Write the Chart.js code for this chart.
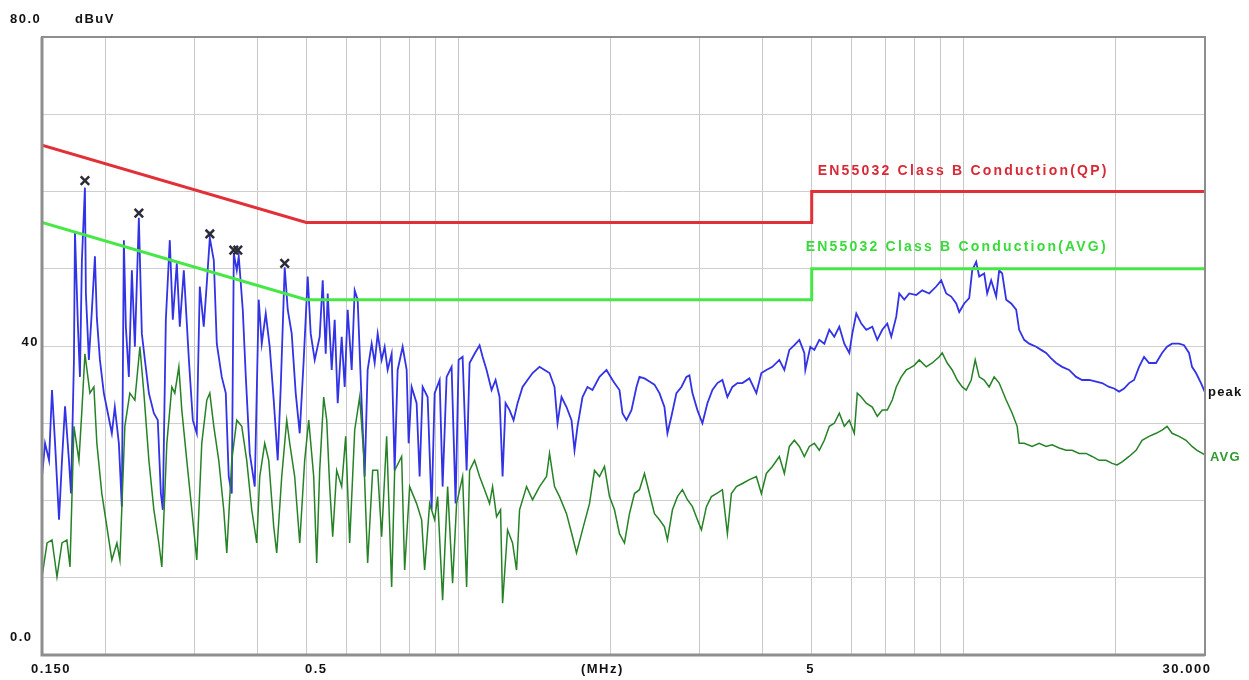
<!DOCTYPE html>
<html>
<head>
<meta charset="utf-8">
<script src="https://cdn.jsdelivr.net/npm/chart.js@4.4.0/dist/chart.umd.min.js"></script>
<style>
  html, body { margin: 0; padding: 0; background: #fff; }
  canvas { display: block; }
</style>
</head>
<body>
<canvas id="emc" width="1249" height="680"></canvas>
<script>
// peak detector trace (MHz / dBuV)
var peakFreq = [
  0.1500, 0.1521, 0.1549, 0.1570, 0.1592, 0.1621, 0.1643, 0.1666, 0.1696, 0.1712,
  0.1735, 0.1743, 0.1767, 0.1783, 0.1799, 0.1824, 0.1832, 0.1857, 0.1883, 0.1909,
  0.1926, 0.1953, 0.1988, 0.2025, 0.2062, 0.2090, 0.2129, 0.2158, 0.2178, 0.2198,
  0.2228, 0.2259, 0.2290, 0.2332, 0.2364, 0.2397, 0.2441, 0.2497, 0.2542, 0.2578,
  0.2601, 0.2637, 0.2685, 0.2722, 0.2772, 0.2810, 0.2862, 0.2929, 0.2982, 0.3036,
  0.3078, 0.3134, 0.3178, 0.3222, 0.3281, 0.3326, 0.3402, 0.3465, 0.3512, 0.3561,
  0.3594, 0.3643, 0.3676, 0.3744, 0.3796, 0.3865, 0.3954, 0.4026, 0.4082, 0.4157,
  0.4233, 0.4311, 0.4390, 0.4451, 0.4532, 0.4595, 0.4679, 0.4765, 0.4853, 0.4942,
  0.5033, 0.5102, 0.5196, 0.5315, 0.5389, 0.5463, 0.5513, 0.5614, 0.5691, 0.5770,
  0.5875, 0.5956, 0.6038, 0.6149, 0.6234, 0.6319, 0.6435, 0.6524, 0.6613, 0.6735,
  0.6828, 0.6922, 0.7049, 0.7146, 0.7244, 0.7377, 0.7479, 0.7581, 0.7756, 0.7899,
  0.7971, 0.8080, 0.8266, 0.8380, 0.8496, 0.8691, 0.8851, 0.8973, 0.9180, 0.9305,
  0.9476, 0.9694, 0.9872, 1.0008, 1.0192, 1.0380, 1.0522, 1.0764, 1.1012, 1.1164,
  1.1369, 1.1630, 1.1844, 1.2061, 1.2228, 1.2396, 1.2624, 1.2856, 1.3092, 1.3393,
  1.3701, 1.4017, 1.4471, 1.4804, 1.5145, 1.5493, 1.5706, 1.5995, 1.6363, 1.6740,
  1.6970, 1.7204, 1.7599, 1.8004, 1.8419, 1.9015, 1.9631, 2.0175, 2.0359, 2.0828,
  2.1114, 2.1502, 2.1997, 2.2503, 2.2813, 2.3339, 2.3876, 2.4426, 2.4988, 2.5563,
  2.5914, 2.6391, 2.6999, 2.7620, 2.8256, 2.8644, 2.9038, 2.9706, 3.0391, 3.1091,
  3.1807, 3.2539, 3.3287, 3.4054, 3.4839, 3.5640, 3.6461, 3.7641, 3.8859, 3.9754,
  4.0669, 4.1796, 4.3149, 4.4143, 4.5159, 4.6199, 4.7262, 4.8350, 4.8571, 4.9689,
  5.0602, 5.1766, 5.2959, 5.4178, 5.5425, 5.6701, 5.8006, 5.9341, 6.0158, 6.1263,
  6.2673, 6.4116, 6.5892, 6.7408, 6.8961, 7.0548, 7.1844, 7.3498, 7.4509, 7.6225,
  7.7979, 8.0504, 8.2733, 8.5412, 8.8177, 9.0207, 9.2284, 9.4408, 9.6581, 9.7910,
  10.017, 10.247, 10.388, 10.579, 10.724, 10.971, 11.122, 11.326, 11.587, 11.746,
  11.908, 12.127, 12.406, 12.692, 12.866, 13.163, 13.466, 13.902, 14.221, 14.548,
  14.884, 15.227, 15.648, 16.155, 16.677, 17.140, 17.695, 18.267, 18.773, 19.381,
  19.827, 20.283, 20.751, 21.228, 21.717, 22.217, 22.729, 23.252, 24.004, 24.669,
  25.237, 25.818, 26.654, 27.268, 27.896, 28.279, 28.798, 29.461, 30.000
];
var peakLevel = [
  23.1, 27.4, 25.2, 34.3, 27.4, 17.5, 25.2, 32.2, 25.2, 20.9,
  38.2, 54.8, 42.5, 36.0, 51.1, 60.5, 46.8, 38.2, 44.7, 51.6,
  43.6, 38.2, 33.9, 31.3, 28.7, 32.1, 27.4, 19.2, 53.7, 42.5,
  36.0, 49.8, 39.9, 56.6, 41.6, 38.2, 33.9, 31.3, 30.4, 20.9,
  18.8, 43.4, 53.7, 43.4, 50.7, 42.5, 49.8, 38.2, 30.4, 28.7,
  47.7, 42.5, 48.1, 54.0, 51.1, 40.3, 36.0, 33.9, 23.1, 20.9,
  52.0, 49.8, 51.6, 44.7, 36.0, 26.1, 21.8, 46.0, 40.3, 44.2,
  39.9, 33.0, 25.2, 34.7, 50.2, 44.7, 41.6, 33.9, 28.7, 38.2,
  49.0, 41.6, 38.2, 41.2, 48.5, 39.0, 46.8, 36.9, 43.4, 32.6,
  41.2, 34.7, 44.7, 36.9, 47.2, 46.0, 32.6, 23.1, 36.9, 40.3,
  37.8, 41.6, 38.2, 39.9, 36.9, 39.0, 23.9, 36.9, 39.9, 36.9,
  27.4, 34.7, 32.6, 23.1, 34.7, 33.4, 18.8, 33.9, 35.6, 21.8,
  36.0, 37.3, 19.6, 38.2, 38.6, 23.9, 37.8, 39.0, 40.1, 38.6,
  36.9, 34.3, 35.6, 33.4, 23.1, 32.6, 31.7, 30.4, 32.6, 34.7,
  35.6, 36.5, 37.3, 36.9, 36.5, 34.7, 30.0, 33.4, 32.1, 30.4,
  26.5, 29.6, 33.4, 34.7, 34.3, 36.0, 36.9, 35.6, 35.2, 34.3,
  31.3, 30.4, 31.7, 34.7, 36.0, 35.8, 35.4, 35.0, 33.9, 32.1,
  28.7, 30.9, 33.9, 34.7, 36.0, 36.2, 33.9, 31.7, 30.0, 32.6,
  34.3, 35.2, 35.6, 33.4, 34.7, 35.2, 35.2, 35.8, 33.9, 36.5,
  36.9, 37.3, 38.2, 36.9, 39.5, 40.1, 40.8, 39.1, 36.9, 39.9,
  39.5, 40.8, 40.3, 42.1, 41.2, 42.5, 40.3, 39.1, 41.6, 44.2,
  42.9, 42.1, 42.5, 40.8, 42.1, 42.9, 41.2, 43.8, 46.8, 46.0,
  46.8, 46.6, 47.2, 46.8, 47.7, 48.5, 46.8, 46.4, 45.5, 44.4,
  45.5, 46.2, 49.8, 50.9, 49.0, 49.4, 46.8, 48.5, 46.4, 49.8,
  49.4, 46.0, 45.5, 44.7, 42.1, 40.8, 40.3, 39.9, 39.5, 39.1,
  38.4, 37.8, 37.3, 36.9, 36.0, 35.6, 35.6, 35.4, 35.2, 34.7,
  34.5, 34.1, 34.5, 35.2, 35.6, 37.3, 38.6, 37.8, 37.8, 39.1,
  39.9, 40.3, 40.3, 40.1, 39.1, 37.3, 36.5, 35.2, 34.0
];

// average detector trace
var avgFreq = [
  0.1500, 0.1535, 0.1570, 0.1606, 0.1643, 0.1680, 0.1704, 0.1735, 0.1775, 0.1799,
  0.1824, 0.1866, 0.1900, 0.1926, 0.1970, 0.2016, 0.2062, 0.2110, 0.2139, 0.2188,
  0.2238, 0.2290, 0.2343, 0.2386, 0.2441, 0.2497, 0.2554, 0.2589, 0.2649, 0.2710,
  0.2747, 0.2798, 0.2836, 0.2901, 0.2968, 0.3036, 0.3106, 0.3178, 0.3222, 0.3281,
  0.3356, 0.3433, 0.3481, 0.3561, 0.3643, 0.3727, 0.3812, 0.3900, 0.3990, 0.4045,
  0.4138, 0.4214, 0.4311, 0.4370, 0.4471, 0.4574, 0.4637, 0.4743, 0.4853, 0.4964,
  0.5056, 0.5172, 0.5243, 0.5315, 0.5413, 0.5488, 0.5563, 0.5640, 0.5743, 0.5875,
  0.5983, 0.6093, 0.6234, 0.6377, 0.6494, 0.6613, 0.6766, 0.6922, 0.7049, 0.7211,
  0.7377, 0.7479, 0.7721, 0.7827, 0.8007, 0.8266, 0.8457, 0.8573, 0.8771, 0.8973,
  0.9096, 0.9305, 0.9520, 0.9738, 0.9917, 1.0192, 1.0380, 1.0522, 1.0764, 1.1012,
  1.1266, 1.1525, 1.1683, 1.1898, 1.2116, 1.2228, 1.2509, 1.2797, 1.3032, 1.3212,
  1.3639, 1.4017, 1.4471, 1.4939, 1.5145, 1.5493, 1.5850, 1.6363, 1.6817, 1.7125,
  1.7599, 1.8169, 1.8587, 1.9015, 1.9453, 1.9901, 2.0359, 2.0828, 2.1307, 2.1798,
  2.2300, 2.2813, 2.3339, 2.3876, 2.4426, 2.4988, 2.5563, 2.5914, 2.6512, 2.7122,
  2.7746, 2.8385, 2.9038, 2.9706, 3.0253, 3.0949, 3.1662, 3.2391, 3.3287, 3.4054,
  3.4680, 3.5478, 3.6461, 3.7641, 3.8859, 3.9754, 4.0669, 4.1796, 4.3149, 4.4143,
  4.5159, 4.6199, 4.7262, 4.8350, 4.9463, 5.0602, 5.1766, 5.2959, 5.4178, 5.5425,
  5.6701, 5.8006, 5.9341, 6.0708, 6.1542, 6.2673, 6.4116, 6.5892, 6.7408, 6.8961,
  7.0548, 7.2172, 7.3498, 7.5190, 7.6921, 7.7979, 7.9775, 8.1611, 8.4253, 8.6587,
  8.9390, 9.0619, 9.2705, 9.4839, 9.7022, 9.9257, 10.108, 10.341, 10.531, 10.724,
  10.971, 11.223, 11.482, 11.746, 12.127, 12.463, 12.750, 12.866, 13.163, 13.651,
  14.093, 14.548, 14.952, 15.436, 15.936, 16.377, 16.907, 17.455, 17.938, 18.518,
  19.118, 19.647, 20.100, 20.563, 21.228, 21.915, 22.522, 23.252, 24.004, 24.669,
  25.237, 25.818, 26.654, 27.517, 28.279, 28.930, 30.000
];
var avgLevel = [
  10.1, 14.5, 14.9, 10.1, 14.5, 14.9, 11.4, 29.6, 25.2, 31.7,
  39.0, 33.9, 34.7, 27.4, 20.9, 16.6, 12.3, 14.5, 12.3, 29.6,
  33.9, 33.0, 39.9, 33.9, 25.2, 18.8, 14.5, 11.4, 27.4, 34.7,
  33.9, 37.3, 31.7, 25.2, 18.8, 12.3, 27.4, 33.0, 33.9, 29.6,
  25.2, 18.8, 13.2, 25.2, 30.4, 29.6, 25.2, 18.8, 14.5, 23.1,
  27.4, 25.2, 16.6, 13.2, 23.1, 30.4, 27.4, 23.1, 14.5, 25.2,
  30.4, 23.1, 11.9, 23.9, 33.4, 30.4, 21.8, 15.3, 23.9, 21.8,
  28.3, 14.5, 29.1, 33.4, 26.1, 11.9, 23.9, 23.9, 15.3, 28.3,
  8.8, 23.9, 25.7, 11.0, 21.8, 19.6, 17.5, 11.0, 19.6, 17.5,
  20.5, 7.1, 21.8, 9.3, 19.6, 23.1, 8.8, 23.9, 25.2, 23.1,
  21.4, 19.6, 21.8, 17.9, 18.8, 6.7, 16.2, 14.5, 11.0, 18.8,
  21.8, 20.1, 21.8, 23.1, 26.1, 21.8, 20.5, 18.3, 15.3, 13.2,
  16.2, 19.6, 23.9, 23.1, 24.4, 20.5, 18.8, 15.7, 14.5, 18.3,
  20.9, 21.4, 23.5, 20.9, 18.3, 17.5, 16.6, 14.9, 18.8, 20.5,
  21.4, 20.1, 19.2, 17.5, 16.2, 19.2, 20.5, 20.9, 21.4, 15.7,
  20.9, 21.8, 22.2, 22.7, 23.1, 20.9, 23.5, 24.4, 25.7, 23.5,
  27.0, 27.8, 27.0, 25.7, 27.0, 27.4, 26.5, 27.8, 29.6, 30.0,
  31.3, 29.6, 30.4, 28.7, 33.9, 33.4, 32.6, 32.1, 30.9, 31.7,
  31.7, 33.0, 34.7, 36.0, 36.9, 37.1, 37.5, 38.2, 37.3, 37.8,
  38.6, 39.1, 37.8, 36.9, 35.6, 34.7, 34.3, 35.6, 38.2, 36.0,
  35.6, 34.7, 36.0, 35.2, 33.0, 31.3, 29.6, 27.4, 27.4, 27.0,
  27.4, 27.0, 27.2, 26.8, 26.5, 26.5, 26.1, 26.1, 25.7, 25.2,
  25.2, 24.8, 24.6, 25.0, 25.7, 26.5, 27.8, 28.3, 28.7, 29.1,
  29.6, 28.7, 28.3, 27.8, 27.0, 26.5, 25.9
];

// EN55032 class B conducted limits
var qpLimitFreq = [0.15, 0.5, 5, 5, 30];
var qpLimitLevel = [66, 56, 56, 60, 60];
var avgLimitFreq = [0.15, 0.5, 5, 5, 30];
var avgLimitLevel = [56, 46, 46, 50, 50];

// marked peaks
var markerFreq = [0.1824, 0.2332, 0.3222, 0.3594, 0.3660, 0.4532];
var markerLevel = [61.4, 57.2, 54.5, 52.4, 52.4, 50.7];

// grid lines and axis labels
var xGridTicks = [0.15, 0.2, 0.3, 0.4, 0.5, 0.6, 0.7, 0.8, 0.9, 1, 2, 3, 4, 5, 6, 7, 8, 9, 10, 20, 30];
var yGridTicks = [0, 10, 20, 30, 40, 50, 60, 70, 80];
var xLabelValues = [0.15, 0.5, 1.9, 5, 30];
var xLabelTexts = ["0.150", "0.5", "(MHz)", "5", "30.000"];
var yLabelValues = [80, 40, 0];
var yLabelTexts = ["80.0", "40", "0.0"];

function toPoints(xs, ys) {
  return xs.map(function(x, i) { return { x: x, y: ys[i] }; });
}

// frame + all text annotations
var emcText = {
  id: "emcText",
  afterDraw: function(chart) {
    var c = chart.ctx, a = chart.chartArea;
    var xs = chart.scales.x, ys = chart.scales.y;
    c.save();
    c.strokeStyle = "#8e8e8e";
    c.lineWidth = 2;
    c.strokeRect(a.left, a.top, a.right - a.left, a.bottom - a.top);
    c.lineWidth = 3;
    c.beginPath();
    c.moveTo(a.left, a.top);
    c.lineTo(a.left, a.bottom);
    c.lineTo(a.right, a.bottom);
    c.stroke();

    c.font = 'bold 13px "Liberation Sans"';
    c.letterSpacing = "1.5px";
    c.textBaseline = "middle";
    c.fillStyle = "#111";

    // y labels
    c.textAlign = "left";
    c.fillText(yLabelTexts[0], 10, ys.getPixelForValue(yLabelValues[0]) - 18);
    c.fillText("dBuV", 75, ys.getPixelForValue(yLabelValues[0]) - 18);
    c.fillText(yLabelTexts[2], 10, ys.getPixelForValue(yLabelValues[2]) - 18);
    c.textAlign = "right";
    c.fillText(yLabelTexts[1], 39, ys.getPixelForValue(yLabelValues[1]) - 4);

    // x labels
    var xOff = [8, 9, 2, -2, -19];
    c.textAlign = "center";
    for (var i = 0; i < xLabelValues.length; i++) {
      c.fillText(xLabelTexts[i], xs.getPixelForValue(xLabelValues[i]) + xOff[i] + 1, a.bottom + 14);
    }

    // limit line captions
    c.textAlign = "left";
    c.font = 'bold 14px "Liberation Sans"';
    c.letterSpacing = "2.2px";
    c.fillStyle = "#d82a36";
    c.fillText("EN55032 Class B Conduction(QP)", xs.getPixelForValue(5) + 6, ys.getPixelForValue(62.6));
    c.fillStyle = "#38dc38";
    c.fillText("EN55032 Class B Conduction(AVG)", xs.getPixelForValue(5) - 6, ys.getPixelForValue(52.8));

    // trace captions
    c.font = 'bold 13px "Liberation Sans"';
    c.letterSpacing = "1.2px";
    c.fillStyle = "#111";
    c.fillText("peak", a.right + 3, ys.getPixelForValue(34.0));
    c.fillStyle = "#2f9a2f";
    c.fillText("AVG", a.right + 5, ys.getPixelForValue(25.6));
    c.restore();
  }
};

var ctx = document.getElementById("emc").getContext("2d");
var chart = new Chart(ctx, {
  type: "line",
  data: {
    datasets: [
      {
        label: "markers",
        data: toPoints(markerFreq, markerLevel),
        showLine: false,
        pointStyle: "crossRot",
        pointRadius: 6,
        pointBorderWidth: 2.5,
        pointBorderColor: "#2b2b3a",
        borderColor: "#2b2b3a"
      },
      {
        label: "QP limit",
        data: toPoints(qpLimitFreq, qpLimitLevel),
        borderColor: "rgb(226, 48, 56)",
        borderWidth: 3,
        pointRadius: 0
      },
      {
        label: "AVG limit",
        data: toPoints(avgLimitFreq, avgLimitLevel),
        borderColor: "rgb(70, 232, 70)",
        borderWidth: 3,
        pointRadius: 0
      },
      {
        label: "AVG",
        data: toPoints(avgFreq, avgLevel),
        borderColor: "rgb(38, 130, 38)",
        borderWidth: 1.5,
        pointRadius: 0
      },
      {
        label: "peak",
        data: toPoints(peakFreq, peakLevel),
        borderColor: "rgb(50, 50, 230)",
        borderWidth: 1.8,
        pointRadius: 0
      }
    ]
  },
  options: {
    responsive: false,
    animation: false,
    layout: { padding: { left: 42, right: 44, top: 37, bottom: 25 } },
    elements: { line: { tension: 0 } },
    plugins: {
      legend: { display: false },
      tooltip: { enabled: false }
    },
    scales: {
      x: {
        type: "logarithmic",
        min: 0.15,
        max: 30,
        afterBuildTicks: function(scale) {
          scale.ticks = xGridTicks.map(function(v) { return { value: v }; });
        },
        ticks: { display: false },
        grid: { color: "#c9c9c9", lineWidth: 1, drawTicks: false },
        border: { display: false }
      },
      y: {
        min: 0,
        max: 80,
        afterBuildTicks: function(scale) {
          scale.ticks = yGridTicks.map(function(v) { return { value: v }; });
        },
        ticks: { display: false },
        grid: { color: "#cfcfcf", lineWidth: 1, drawTicks: false },
        border: { display: false }
      }
    }
  },
  plugins: [emcText]
});
</script>
</body>
</html>
